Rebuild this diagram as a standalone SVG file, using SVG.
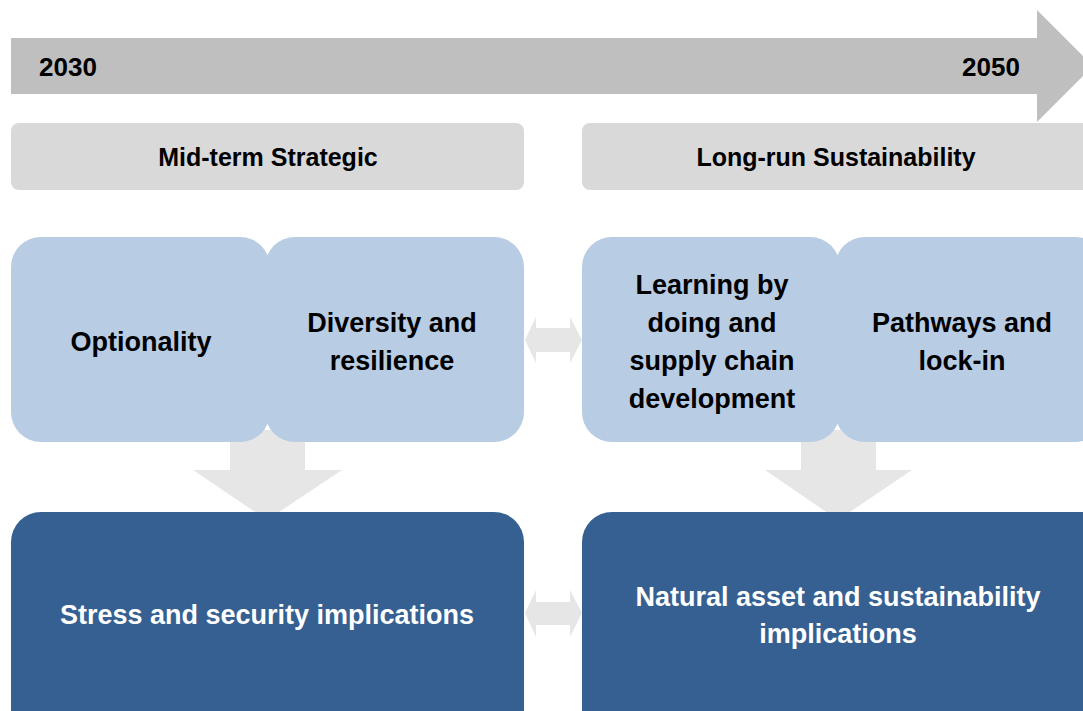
<svg xmlns="http://www.w3.org/2000/svg" width="1083" height="711" viewBox="0 0 1083 711">
  <style>
    .t { font-family: "Liberation Sans", Arial, sans-serif; font-weight: bold; text-anchor: middle; }
    .dark { fill: #000000; }
    .light { fill: #ffffff; }
    .band { fill: #d9d9d9; }
    .pale { fill: #b8cce4; }
    .deep { fill: #366092; }
    .link { fill: #e6e6e6; }
    .big { font-size: 27px; }
    .head { font-size: 25px; }
  </style>
  <rect width="1083" height="711" fill="#ffffff"/>

  <!-- timeline arrow -->
  <g id="timeline">
    <polygon points="11,38 1037,38 1037,10 1093,66 1037,122 1037,94 11,94" fill="#bfbfbf"/>
    <text class="t dark" x="68" y="76" font-size="26">2030</text>
    <text class="t dark" x="991" y="76" font-size="26">2050</text>
  </g>

  <!-- connectors -->
  <g id="connectors">
    <polygon class="link" points="230,430 305,430 305,470 342,470 267,520 193,470 230,470"/>
    <polygon class="link" points="801,430 876,430 876,470 912,470 838,520 765,470 801,470"/>
    <polygon class="link" points="525,340 536,317 536,328 570,328 570,317 582,340 570,363 570,352 536,352 536,363"/>
    <polygon class="link" points="525,613 536,590 536,602 570,602 570,590 582,613 570,637 570,625 536,625 536,637"/>
  </g>

  <!-- phase headers -->
  <g id="mid-term">
    <rect class="band" x="11" y="123" width="513" height="67" rx="8"/>
    <text class="t dark head" x="268" y="166">Mid-term Strategic</text>
  </g>
  <g id="long-run">
    <rect class="band" x="582" y="123" width="520" height="67" rx="8"/>
    <text class="t dark head" x="836" y="166">Long-run Sustainability</text>
  </g>

  <!-- mid-term drivers -->
  <g id="optionality">
    <rect class="pale" x="11" y="237" width="259" height="205" rx="30"/>
    <text class="t dark big" x="141" y="351">Optionality</text>
  </g>
  <g id="diversity">
    <rect class="pale" x="265" y="237" width="259" height="205" rx="30"/>
    <text class="t dark big" x="392" y="332">Diversity and</text>
    <text class="t dark big" x="392" y="370">resilience</text>
  </g>

  <!-- long-run drivers -->
  <g id="learning">
    <rect class="pale" x="582" y="237" width="258" height="205" rx="30"/>
    <text class="t dark big" x="712" y="294">Learning by</text>
    <text class="t dark big" x="712" y="332">doing and</text>
    <text class="t dark big" x="712" y="370">supply chain</text>
    <text class="t dark big" x="712" y="408">development</text>
  </g>
  <g id="pathways">
    <rect class="pale" x="835" y="237" width="270" height="205" rx="30"/>
    <text class="t dark big" x="962" y="332">Pathways and</text>
    <text class="t dark big" x="962" y="370">lock-in</text>
  </g>

  <!-- implications -->
  <g id="stress">
    <rect class="deep" x="11" y="512" width="513" height="230" rx="30"/>
    <text class="t light big" x="267" y="624">Stress and security implications</text>
  </g>
  <g id="natural">
    <rect class="deep" x="582" y="512" width="530" height="230" rx="30"/>
    <text class="t light big" x="838" y="606">Natural asset and sustainability</text>
    <text class="t light big" x="838" y="643">implications</text>
  </g>
</svg>
